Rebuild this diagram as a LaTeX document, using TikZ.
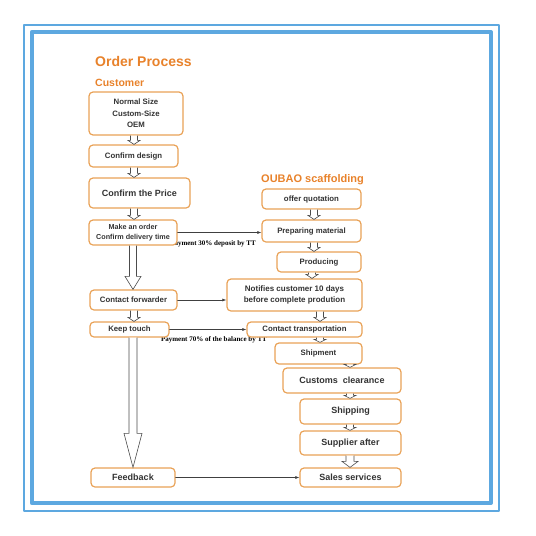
\documentclass[tikz,border=0pt]{standalone}
\usepackage{fontspec}
\setmainfont{Liberation Sans}
\newfontfamily\notefont{Liberation Serif}
\usetikzlibrary{calc,arrows.meta}
\definecolor{frameblue}{HTML}{5DA8E0}
\definecolor{titleorange}{HTML}{E8822B}
\definecolor{boxorange}{HTML}{E9A257}
\definecolor{boxtext}{HTML}{333333}

\begin{document}
\begin{tikzpicture}[x=1pt,y=-1pt,line cap=round,line join=round,
  stepbox/.style={draw=boxorange,line width=1.2pt,rounded corners=4pt,fill=white,
    text=boxtext,font=\bfseries\fontsize{7.8}{10.5}\selectfont,align=center,inner sep=0pt},
  bigbox/.style={stepbox,font=\bfseries\fontsize{9}{11}\selectfont},
  hollow/.style={draw=gray!60!black,fill=white,line width=0.6pt,line cap=butt,line join=miter},
  link/.style={draw=black!75,line width=0.6pt,-{Latex[length=4pt,width=3pt]}},
  note/.style={font=\notefont\bfseries\fontsize{7}{8}\selectfont,inner sep=0pt},
  heading/.style={anchor=base west,text=titleorange,inner sep=0pt}]
\useasboundingbox (0,0) rectangle (536,536);
% frame
\draw[frameblue,line width=2pt] (24.3,25) rectangle (498.5,511);
\draw[frameblue,line width=4.3pt] (32,32) rectangle (490.7,503);
% headings
\node[heading,font=\bfseries\fontsize{14}{16}\selectfont] (title) at (95,66) {Order Process};
\node[heading,font=\bfseries\fontsize{10.5}{12}\selectfont] (cust) at (95,86) {Customer};
\node[heading,font=\bfseries\fontsize{11}{12}\selectfont] (oubao) at (261,182) {OUBAO scaffolding};
% payment notes (the boxes lie over them)
\node[note,anchor=east] (deposit) at (256,244) {Payment 30\% deposit by TT};
\node[note] (balance) at (214,340) {Payment 70\% of the balance by TT};

% customer side
\node[stepbox,minimum width=94,minimum height=43,font=\bfseries\fontsize{7.8}{11.5}\selectfont] (size) at (136,113.5) {Normal Size\\Custom-Size\\OEM};
\node[stepbox,minimum width=89,minimum height=22] (design) at (133.5,156) {Confirm design};
\node[bigbox,minimum width=101,minimum height=30] (price) at (139.5,193) {Confirm the Price};
\node[stepbox,minimum width=88,minimum height=25,font=\bfseries\fontsize{7.2}{10.5}\selectfont] (order) at (133,232.5) {Make an order\\Confirm delivery time};
\node[stepbox,minimum width=87,minimum height=20] (forwarder) at (133.5,300) {Contact forwarder};
\node[stepbox,minimum width=79,minimum height=15] (touch) at (129.5,329.5) {Keep touch};
\node[bigbox,minimum width=84,minimum height=19] (feedback) at (133,477.5) {Feedback};

% supplier side
\node[stepbox,minimum width=99,minimum height=20] (quote) at (311.5,199) {offer quotation};
\node[stepbox,minimum width=99,minimum height=22] (material) at (311.5,231) {Preparing material};
\node[stepbox,minimum width=84,minimum height=20] (produce) at (319,262) {Producing};
\node[stepbox,minimum width=135,minimum height=32,font=\bfseries\fontsize{8}{11}\selectfont] (notify) at (294.5,295) {Notifies customer 10 days\\before complete prodution};
\node[stepbox,minimum width=115,minimum height=15] (transport) at (304.5,329.5) {Contact transportation};
\node[stepbox,minimum width=87,minimum height=21] (shipment) at (318.5,353.5) {Shipment};
\node[bigbox,minimum width=118,minimum height=25] (customs) at (342,380.5) {Customs\ \ clearance};
\node[bigbox,minimum width=101,minimum height=25] (shipping) at (350.5,411.5) {Shipping};
\node[bigbox,minimum width=101,minimum height=24] (supplier) at (350.5,443) {Supplier after};
\node[bigbox,minimum width=101,minimum height=19] (sales) at (350.5,477.5) {Sales services};

% hollow arrows: from/to/x/shaft/head/head length
\foreach \a/\b/\ax/\sw/\hw/\hl in {
size/design/134/3.5/6/4,
design/price/134/3.5/6/4,
price/order/134/3.5/6/4,
order/forwarder/133/3.5/8/13,
forwarder/touch/134/3.5/6/4,
touch/feedback/133/4/9/34,
quote/material/314/3.5/6/4,
material/produce/314/3.5/6/4,
produce/notify/312/3.5/6/4,
notify/transport/320/3.5/6/4,
transport/shipment/320/3.5/6/3,
shipment/customs/350/3.5/6/3,
customs/shipping/350/3.5/6/3,
shipping/supplier/350/3.5/6/3,
supplier/sales/350/4/8/6
} {
  \draw[hollow] let \p0=(\ax,0), \p1=(\a.south), \p2=(\b.north) in
    (\x0-\sw*1pt,\y1) -- (\x0-\sw*1pt,\y2+\hl*1pt) -- (\x0-\hw*1pt,\y2+\hl*1pt) -- (\x0,\y2)
    -- (\x0+\hw*1pt,\y2+\hl*1pt) -- (\x0+\sw*1pt,\y2+\hl*1pt) -- (\x0+\sw*1pt,\y1);
}

% links between the two sides
\draw[link] (order.east) -- (order.east -| material.west);
\draw[link] (forwarder.east) -- (forwarder.east -| notify.west);
\draw[link] (touch.east) -- (transport.west);
\draw[link] (feedback.east) -- (sales.west);
\end{tikzpicture}
\end{document}
